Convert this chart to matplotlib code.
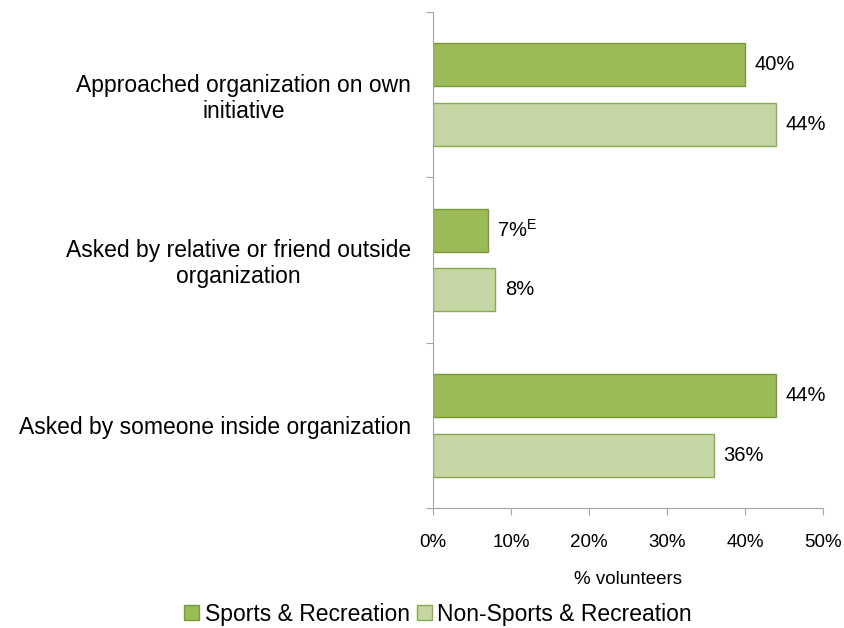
import numpy as np
import matplotlib.pyplot as plt
from matplotlib.patches import Patch

plt.rcParams['font.family'] = ['Liberation Sans', 'DejaVu Sans']

categories = ["Approached organization on own\ninitiative",
              "Asked by relative or friend outside\norganization",
              "Asked by someone inside organization"]
sports = [40, 7, 44]
non_sports = [44, 8, 36]
sports_labels = ["40%", "7%$^\\mathregular{E}$", "44%"]
non_sports_labels = ["44%", "8%", "36%"]
series_names = ["Sports & Recreation", "Non-Sports & Recreation"]

dark = "#9BBB59"
dark_edge = "#7A9A3A"
light = "#C4D6A4"
light_edge = "#8AAA4E"
axis_grey = "#A6A6A6"

fig = plt.figure(figsize=(8.44, 6.28), dpi=100)
ax = fig.add_axes([0.513, 0.191, 0.462, 0.790])

n = len(categories)
centers = np.arange(n) + 0.5
h = 0.26
ax.barh(centers - 0.18, sports, height=h, color=dark, edgecolor=dark_edge, linewidth=1)
ax.barh(centers + 0.18, non_sports, height=h, color=light, edgecolor=light_edge, linewidth=1)

for y, v, s in zip(centers - 0.18, sports, sports_labels):
    ax.annotate(s, (v, y), xytext=(7, 0), textcoords="offset points",
                va="center", ha="left", fontsize=14.5)
for y, v, s in zip(centers + 0.18, non_sports, non_sports_labels):
    ax.annotate(s, (v, y), xytext=(7, 0), textcoords="offset points",
                va="center", ha="left", fontsize=14.5)

ax.set_xlim(0, 50)
ax.set_ylim(n, 0)
ax.set_xticks(np.arange(0, 51, 10))
ax.set_xticklabels([f"{t}%" for t in range(0, 51, 10)], fontsize=13.5)
ax.tick_params(axis="x", length=5, color=axis_grey, pad=14)

# boundaries get the tick marks, category names sit between them
ax.set_yticks(np.arange(n + 1))
ax.set_yticklabels([])
ax.tick_params(axis="y", which="major", length=5, color=axis_grey)
ax.set_yticks(centers, minor=True)
ax.set_yticklabels(categories, minor=True, fontsize=16.5)
ax.tick_params(axis="y", which="minor", length=0, pad=16)
for lab in ax.get_yticklabels(minor=True):
    lab.set_multialignment("center")
    lab.set_linespacing(1.15)

for side in ["top", "right"]:
    ax.spines[side].set_visible(False)
for side in ["left", "bottom"]:
    ax.spines[side].set_color(axis_grey)

ax.set_xlabel("% volunteers", fontsize=13.5, labelpad=14)

handles = [Patch(facecolor=dark, edgecolor=dark_edge),
           Patch(facecolor=light, edgecolor=light_edge)]
fig.legend(handles, series_names, loc="center", bbox_to_anchor=(0.519, 0.022),
           ncol=2, frameon=False, fontsize=16.5, handlelength=0.65, handleheight=0.65,
           handletextpad=0.25, columnspacing=0.3)

fig.savefig("out.png", dpi=100)
